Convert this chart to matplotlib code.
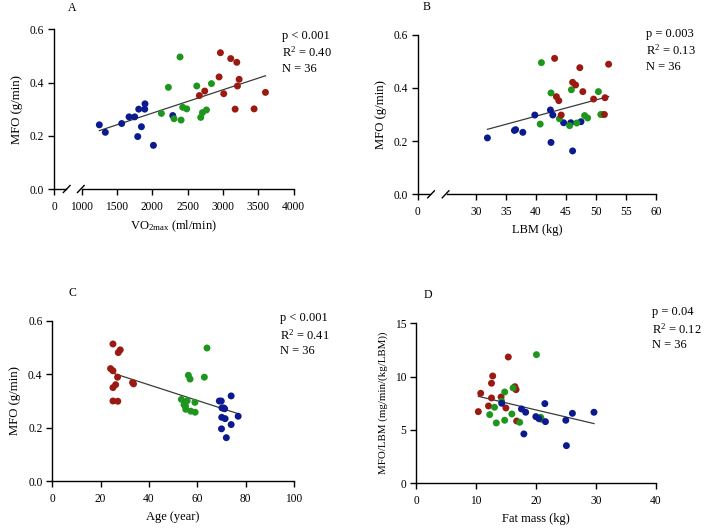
import numpy as np
import matplotlib
matplotlib.use("Agg")
import matplotlib.pyplot as plt

plt.rcParams['font.family'] = ['Liberation Serif', 'DejaVu Serif']
plt.rcParams['mathtext.fontset'] = 'custom'
plt.rcParams['mathtext.rm'] = 'Liberation Serif'
plt.rcParams['mathtext.it'] = 'Liberation Serif:italic'

BLUE = '#0b1a8e'
GREEN = '#1e961e'
RED = '#9a1a12'

# panel A: VO2max vs MFO
a_blue_x = [1250, 1335, 1567, 1671, 1751, 1808, 1897, 1893, 1846, 1794, 2016, 2290]
a_blue_y = [0.241, 0.213, 0.246, 0.271, 0.271, 0.300, 0.320, 0.300, 0.234, 0.197, 0.164, 0.276]
a_green_x = [2393, 2228, 2129, 2308, 2431, 2488, 2408, 2630, 2838, 2686, 2710, 2767]
a_green_y = [0.496, 0.382, 0.284, 0.264, 0.307, 0.301, 0.259, 0.387, 0.396, 0.269, 0.287, 0.297]
a_red_x = [2965, 3111, 3197, 2946, 3230, 3206, 2743, 2667, 3012, 3603, 3173, 3442]
a_red_y = [0.512, 0.490, 0.476, 0.421, 0.412, 0.387, 0.368, 0.351, 0.358, 0.363, 0.300, 0.301]

# panel B: LBM vs MFO
b_blue_x = [31.9, 36.4, 36.6, 37.8, 39.8, 42.4, 42.8, 42.5, 44.6, 45.8, 46.1, 47.5]
b_blue_y = [0.212, 0.240, 0.243, 0.233, 0.298, 0.317, 0.298, 0.195, 0.269, 0.269, 0.163, 0.273]
b_green_x = [40.9, 40.7, 42.5, 43.9, 45.6, 45.9, 46.8, 48.1, 48.6, 50.4, 50.8, 51.0]
b_green_y = [0.495, 0.264, 0.381, 0.284, 0.258, 0.393, 0.268, 0.296, 0.287, 0.386, 0.300, 0.300]
b_red_x = [43.1, 47.3, 52.1, 46.1, 46.6, 47.8, 43.4, 43.8, 44.2, 49.6, 51.5, 51.4]
b_red_y = [0.511, 0.476, 0.489, 0.421, 0.411, 0.386, 0.367, 0.352, 0.298, 0.358, 0.363, 0.300]

# panel C: age vs MFO
c_red_x = [25.1, 27.3, 28.1, 24.1, 25.1, 27.0, 26.2, 25.1, 33.2, 33.6, 25.1, 27.1]
c_red_y = [0.513, 0.481, 0.491, 0.421, 0.413, 0.389, 0.361, 0.350, 0.369, 0.364, 0.300, 0.299]
c_green_x = [64.0, 56.3, 57.0, 62.9, 53.4, 55.8, 54.5, 55.2, 57.3, 59.0, 59.1, 55.1]
c_green_y = [0.498, 0.396, 0.382, 0.389, 0.306, 0.301, 0.286, 0.269, 0.262, 0.295, 0.258, 0.281]
c_blue_x = [69.1, 69.9, 74.0, 70.2, 71.3, 70.1, 71.5, 76.9, 74.0, 70.0, 72.0, 70.9]
c_blue_y = [0.300, 0.300, 0.319, 0.274, 0.271, 0.239, 0.234, 0.243, 0.212, 0.196, 0.163, 0.274]

# panel D: fat mass vs MFO/LBM
d_red_x = [15.4, 12.8, 12.6, 10.8, 16.5, 16.7, 12.6, 14.2, 12.1, 15.0, 10.4, 16.8]
d_red_y = [11.84, 10.06, 9.38, 8.44, 9.06, 8.78, 8.0, 8.09, 7.25, 7.06, 6.72, 5.84]
d_green_x = [20.1, 16.2, 14.8, 14.3, 13.1, 12.3, 16.0, 13.4, 14.8, 17.3, 20.9, 20.8]
d_green_y = [12.06, 8.94, 8.56, 7.69, 7.13, 6.44, 6.5, 5.66, 5.91, 5.72, 6.0, 6.19]
d_blue_x = [14.3, 17.6, 18.3, 21.5, 20.0, 20.5, 21.6, 18.0, 25.0, 26.1, 29.7, 25.1]
d_blue_y = [7.5, 6.97, 6.66, 7.47, 6.25, 6.06, 5.78, 4.63, 5.91, 6.56, 6.66, 3.53]

stats_a = ['p < 0.001', 'R$^{\\mathregular{2}}$ = 0.40', 'N = 36']
stats_b = ['p = 0.003', 'R$^{\\mathregular{2}}$ = 0.13', 'N = 36']
stats_c = ['p < 0.001', 'R$^{\\mathregular{2}}$ = 0.41', 'N = 36']
stats_d = ['p = 0.04', 'R$^{\\mathregular{2}}$ = 0.12', 'N = 36']

W, H = 709, 530
fig = plt.figure(figsize=(W / 100, H / 100), dpi=100)


def add_ax(left, right, top, bottom):
    return fig.add_axes([left / W, 1 - bottom / H, (right - left) / W, (bottom - top) / H])


def style(ax):
    for s in ['top', 'right']:
        ax.spines[s].set_visible(False)
    for s in ['left', 'bottom']:
        ax.spines[s].set_linewidth(1.0)
    ax.tick_params(direction='out', length=4.5, width=1.0, labelsize=8.3)
    ax.tick_params(axis='x', pad=4)
    ax.tick_params(axis='y', pad=2.5)


def scatter_groups(ax, groups):
    allx, ally = [], []
    for x, y, c in groups:
        ax.scatter(x, y, s=25, color=c, edgecolors='none', zorder=3, clip_on=False)
        allx += list(x)
        ally += list(y)
    allx = np.array(allx)
    ally = np.array(ally)
    k, b = np.polyfit(allx, ally, 1)
    xs = np.array([allx.min(), allx.max()])
    ax.plot(xs, k * xs + b, color='#3a3a3a', lw=0.9, zorder=2)


def stats(x, y, lines):
    for i, t in enumerate(lines):
        fig.text(x / W, 1 - (y + i * 16.5) / H, t, fontsize=9, va='center', ha='left')


def draw_break(ax, s1, s2):
    ax.spines['bottom'].set_visible(False)
    kw = dict(transform=ax.transAxes, color='black', lw=1.0, clip_on=False)
    ax.plot([0, s1 - 0.004], [0, 0], **kw)
    ax.plot([s2 + 0.004, 1], [0, 0], **kw)
    for s in (s1, s2):
        ax.plot([s - 0.014, s + 0.014], [-0.022, 0.022], **kw)


def labels(ax, xl, yl, ysize=9.2):
    ax.set_xlabel(xl, fontsize=9, labelpad=4)
    ax.set_ylabel(yl, fontsize=ysize, labelpad=5)


# ---- A
axA = add_ax(54, 293.5, 29.3, 189)
style(axA)
compA = 392 / 1000
axA.set_xscale('function', functions=(
    lambda x: np.where(np.asarray(x, float) < 1000, np.asarray(x, float) * compA, np.asarray(x, float) - 1000 + 392),
    lambda y: np.where(np.asarray(y, float) < 392, np.asarray(y, float) / compA, np.asarray(y, float) + 1000 - 392)))
scatter_groups(axA, [(a_blue_x, a_blue_y, BLUE), (a_green_x, a_green_y, GREEN), (a_red_x, a_red_y, RED)])
axA.set_xlim(0, 4000)
axA.set_ylim(0, 0.6)
axA.set_xticks([0, 1000, 1500, 2000, 2500, 3000, 3500, 4000])
axA.set_yticks([0, 0.2, 0.4, 0.6])
axA.set_yticklabels(['0.0', '0.2', '0.4', '0.6'])
labels(axA, 'VO$_{\\mathregular{2max}}$ (ml/min)', 'MFO (g/min)')
draw_break(axA, 0.053, 0.112)
fig.text(72 / W, 1 - 8 / H, 'A', fontsize=8.5, ha='center', va='center')
stats(282.5, 36, stats_a)

# ---- B
axB = add_ax(417.7, 656, 34.7, 194.3)
style(axB)
gB = 9.72
axB.set_xscale('function', functions=(
    lambda x: np.where(np.asarray(x, float) < 30, np.asarray(x, float) * gB / 30, np.asarray(x, float) - 30 + gB),
    lambda y: np.where(np.asarray(y, float) < gB, np.asarray(y, float) * 30 / gB, np.asarray(y, float) + 30 - gB)))
scatter_groups(axB, [(b_blue_x, b_blue_y, BLUE), (b_green_x, b_green_y, GREEN), (b_red_x, b_red_y, RED)])
axB.set_xlim(0, 60)
axB.set_ylim(0, 0.6)
axB.set_xticks([0, 30, 35, 40, 45, 50, 55, 60])
axB.set_yticks([0, 0.2, 0.4, 0.6])
axB.set_yticklabels(['0.0', '0.2', '0.4', '0.6'])
labels(axB, 'LBM (kg)', 'MFO (g/min)')
draw_break(axB, 0.056, 0.117)
fig.text(427 / W, 1 - 7 / H, 'B', fontsize=8.5, ha='center', va='center')
stats(646.5, 33.5, stats_b)

# ---- C
axC = add_ax(52.3, 294, 320.7, 481.3)
style(axC)
scatter_groups(axC, [(c_red_x, c_red_y, RED), (c_green_x, c_green_y, GREEN), (c_blue_x, c_blue_y, BLUE)])
axC.set_xlim(0, 100)
axC.set_ylim(0, 0.6)
axC.set_xticks([0, 20, 40, 60, 80, 100])
axC.set_yticks([0, 0.2, 0.4, 0.6])
axC.set_yticklabels(['0.0', '0.2', '0.4', '0.6'])
labels(axC, 'Age (year)', 'MFO (g/min)')
fig.text(72 / W, 1 - 293.5 / H, 'C', fontsize=8.5, ha='center', va='center')
stats(280, 318.5, stats_c)

# ---- D
axD = add_ax(416, 655.7, 323.3, 483.3)
style(axD)
scatter_groups(axD, [(d_red_x, d_red_y, RED), (d_green_x, d_green_y, GREEN), (d_blue_x, d_blue_y, BLUE)])
axD.set_xlim(0, 40)
axD.set_ylim(0, 15)
axD.set_xticks([0, 10, 20, 30, 40])
axD.set_yticks([0, 5, 10, 15])
labels(axD, 'Fat mass (kg)', 'MFO/LBM (mg/min/(kg/LBM))', ysize=7.8)
fig.text(427.5 / W, 1 - 294.5 / H, 'D', fontsize=8.5, ha='center', va='center')
stats(652.5, 312.5, stats_d)

fig.savefig('out.png', dpi=100)
